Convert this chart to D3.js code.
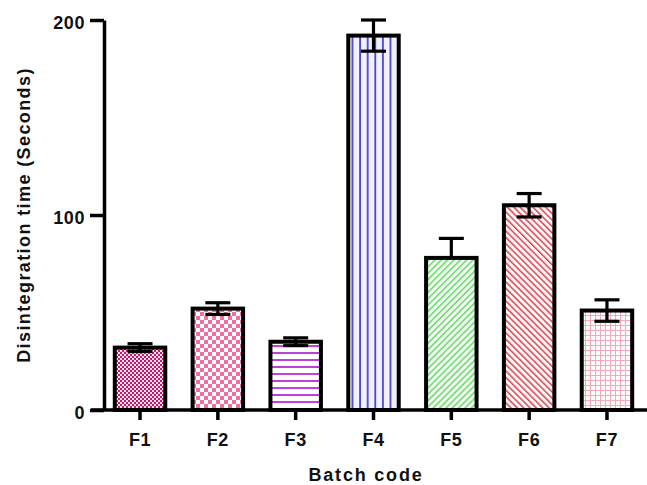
<!DOCTYPE html>
<html>
<head>
<meta charset="utf-8">
<script src="https://cdn.jsdelivr.net/npm/d3@7"></script>
<style>
  html, body { margin: 0; padding: 0; background: #fff; }
  svg { display: block; }
  text { font-family: "Liberation Sans", Arial, Helvetica, sans-serif; font-weight: bold; fill: #111; }
</style>
</head>
<body>
<script>
// ---- data ----
const categories = ["F1", "F2", "F3", "F4", "F5", "F6", "F7"];
const means = [32, 52, 35, 192, 78, 105, 51];
const errors = [2, 3, 2, 8, 10, 6, 5.5];
const lowerErrVisible = [true, true, true, true, false, true, true];
const yTicks = [0, 100, 200];
const patternIds = ["pF1", "pF2", "pF3", "pF4", "pF5", "pF6", "pF7"];
const yTitle = "Disintegration time (Seconds)";
const xTitle = "Batch code";

// ---- layout ----
const W = 647, H = 485;
const svg = d3.select("body").append("svg").attr("width", W).attr("height", H);

const x = d3.scaleBand().domain(categories).range([104, 643]).paddingInner(0.3).paddingOuter(0.113);
const y = d3.scaleLinear().domain([0, 200]).range([410, 20]);

// ---- patterns ----
const defs = svg.append("defs");
function pat(id, w, h, bg) {
  const p = defs.append("pattern").attr("id", id).attr("patternUnits", "userSpaceOnUse")
    .attr("width", w).attr("height", h);
  p.append("rect").attr("width", w).attr("height", h).attr("fill", bg);
  return p;
}
// F1 dots
let p = pat("pF1", 4, 4, "#fbe3ee");
p.append("rect").attr("x", 0).attr("y", 0).attr("width", 2).attr("height", 2).attr("fill", "#c8176a");
p.append("rect").attr("x", 2).attr("y", 2).attr("width", 2).attr("height", 2).attr("fill", "#c8176a");
// F2 checker
p = pat("pF2", 8, 8, "#ffffff");
p.append("rect").attr("x", 0).attr("y", 0).attr("width", 4).attr("height", 4).attr("fill", "#f0709f");
p.append("rect").attr("x", 4).attr("y", 4).attr("width", 4).attr("height", 4).attr("fill", "#f0709f");
// F3 horizontal lines
p = pat("pF3", 7, 7, "#ffffff");
p.append("rect").attr("x", 0).attr("y", 2).attr("width", 7).attr("height", 2).attr("fill", "#c040dc");
// F4 vertical lines
p = pat("pF4", 7.6, 7.6, "#f2f0ff");
p.append("rect").attr("x", 2).attr("y", 0).attr("width", 1.8).attr("height", 7.6).attr("fill", "#4646cc");
// F5 diagonal /
p = pat("pF5", 4.5, 4.5, "#f4fff4").attr("patternTransform", "rotate(45)");
p.append("rect").attr("x", 0).attr("y", 0).attr("width", 1.6).attr("height", 4.5).attr("fill", "#72d872");
// F6 diagonal \
p = pat("pF6", 4.5, 4.5, "#fff6f6").attr("patternTransform", "rotate(-45)");
p.append("rect").attr("x", 0).attr("y", 0).attr("width", 1.6).attr("height", 4.5).attr("fill", "#d9505c");
// F7 grid
p = pat("pF7", 5, 5, "#fffafb");
p.append("rect").attr("x", 0).attr("y", 0).attr("width", 5).attr("height", 1).attr("fill", "#f2aab8");
p.append("rect").attr("x", 0).attr("y", 0).attr("width", 1).attr("height", 5).attr("fill", "#f2aab8");

// ---- bars ----
const data = categories.map((c, i) => ({ c, v: means[i], e: errors[i], low: lowerErrVisible[i], pid: patternIds[i] }));
const bw = x.bandwidth();

svg.append("g").selectAll("rect").data(data).join("rect")
  .attr("x", d => x(d.c) + 2)
  .attr("y", d => y(d.v))
  .attr("width", bw - 4)
  .attr("height", d => y(0) - y(d.v))
  .attr("fill", d => `url(#${d.pid})`)
  .attr("stroke", "#000")
  .attr("stroke-width", 4);

// ---- error bars ----
const capW = 25;
const eg = svg.append("g").attr("stroke", "#000").attr("stroke-width", 3.2);
data.forEach(d => {
  const cx = x(d.c) + bw / 2;
  const yTop = y(d.v + d.e);
  const yBot = d.low ? y(d.v - d.e) : y(d.v);
  eg.append("line").attr("x1", cx).attr("x2", cx).attr("y1", yTop).attr("y2", yBot);
  eg.append("line").attr("x1", cx - capW / 2).attr("x2", cx + capW / 2).attr("y1", yTop).attr("y2", yTop);
  if (d.low) eg.append("line").attr("x1", cx - capW / 2).attr("x2", cx + capW / 2).attr("y1", yBot).attr("y2", yBot);
});

// ---- axes ----
const yAxis = svg.append("g").attr("transform", "translate(104,0)")
  .call(d3.axisLeft(y).tickValues(yTicks).tickSize(14).tickSizeOuter(0).tickPadding(5));
yAxis.select(".domain").attr("stroke-width", 3.5).attr("stroke", "#000");
yAxis.selectAll(".tick line").attr("stroke-width", 3.5).attr("stroke", "#000");
yAxis.selectAll(".tick text").attr("font-size", 18).attr("font-family", null).attr("dy", "0.45em").attr("letter-spacing", 0.6);

const xAxis = svg.append("g").attr("transform", "translate(0,410)")
  .call(d3.axisBottom(x).tickSize(10).tickSizeOuter(0).tickPadding(13));
xAxis.select(".domain").remove();
xAxis.selectAll(".tick line").attr("stroke-width", 3.5).attr("stroke", "#000");
xAxis.selectAll(".tick text").attr("font-size", 18).attr("font-family", null).attr("letter-spacing", 0.6);
xAxis.append("line").attr("x1", 91).attr("x2", W).attr("y1", 0).attr("y2", 0)
  .attr("stroke", "#000").attr("stroke-width", 3.5);

// ---- titles ----
svg.append("text").attr("transform", "translate(30,215) rotate(-90)")
  .attr("text-anchor", "middle").attr("font-size", 18).attr("letter-spacing", 1.4).text(yTitle);
svg.append("text").attr("x", 366).attr("y", 481)
  .attr("text-anchor", "middle").attr("font-size", 18).attr("letter-spacing", 1.8).text(xTitle);
</script>
</body>
</html>
